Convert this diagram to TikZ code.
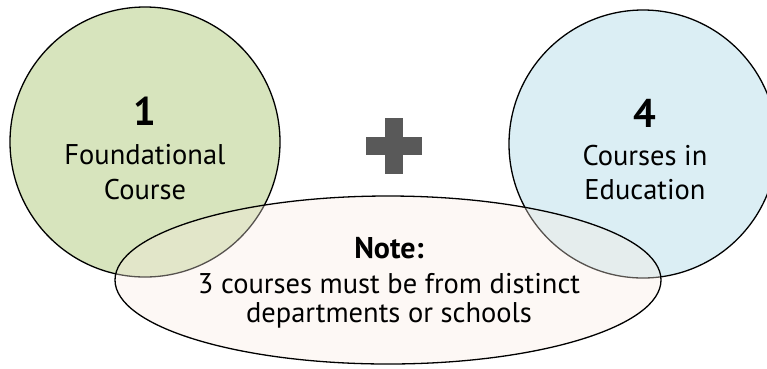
\documentclass[tikz,border=0pt]{standalone}
\usepackage{fontspec}
\setmainfont{PT Sans}
\usetikzlibrary{shapes.geometric}
\definecolor{greenfill}{RGB}{215,228,189}
\definecolor{bluefill}{RGB}{219,238,244}
\definecolor{notefill}{RGB}{248,236,226}
\definecolor{plusgray}{RGB}{89,89,89}
\tikzset{
  bubble/.style={circle, draw=black, line width=1.3pt, minimum size=#1, inner sep=0pt},
  notebubble/.style={ellipse, draw=black, line width=1.3pt, fill=notefill, fill opacity=0.35, draw opacity=1, inner sep=0pt},
  numtxt/.style={anchor=base, inner sep=0pt, font=\fontsize{40}{46}\selectfont\bfseries},
  bodytxt/.style={anchor=base, inner sep=0pt, font=\fontsize{28.5}{33}\selectfont},
  notehead/.style={anchor=base, inner sep=0pt, font=\fontsize{30}{34}\selectfont\bfseries},
}
\begin{document}
\begin{tikzpicture}[x=1pt,y=-1pt]
\useasboundingbox (0,0) rectangle (767,368);
\begin{scope}
\clip (0,0) rectangle (767,368);
\node[bubble=270pt, fill=greenfill] (left) at (145,142) {};
\node[bubble=268pt, fill=bluefill] (right) at (643,144) {};
\fill[plusgray] (385,117.5) rectangle (402.5,173.5);
\fill[plusgray] (365.5,136.5) rectangle (421.5,154.5);
\node[notebubble, minimum width=546pt, minimum height=168pt] (note) at (388,280) {};
\end{scope}
\node[numtxt] (one) at (145,125) {1};
\node[bodytxt] (found) at (145,164) {Foundational};
\node[bodytxt] (course) at (145,199) {Course};
\node[numtxt] (four) at (645,127) {4};
\node[bodytxt] (coursesin) at (645,165) {Courses in};
\node[bodytxt] (educ) at (645,199) {Education};
\node[notehead] (notetitle) at (389,258) {Note:};
\node[bodytxt] (line1) at (389,293) {3 courses must be from distinct};
\node[bodytxt] (line2) at (389,322) {departments or schools};
\end{tikzpicture}
\end{document}
